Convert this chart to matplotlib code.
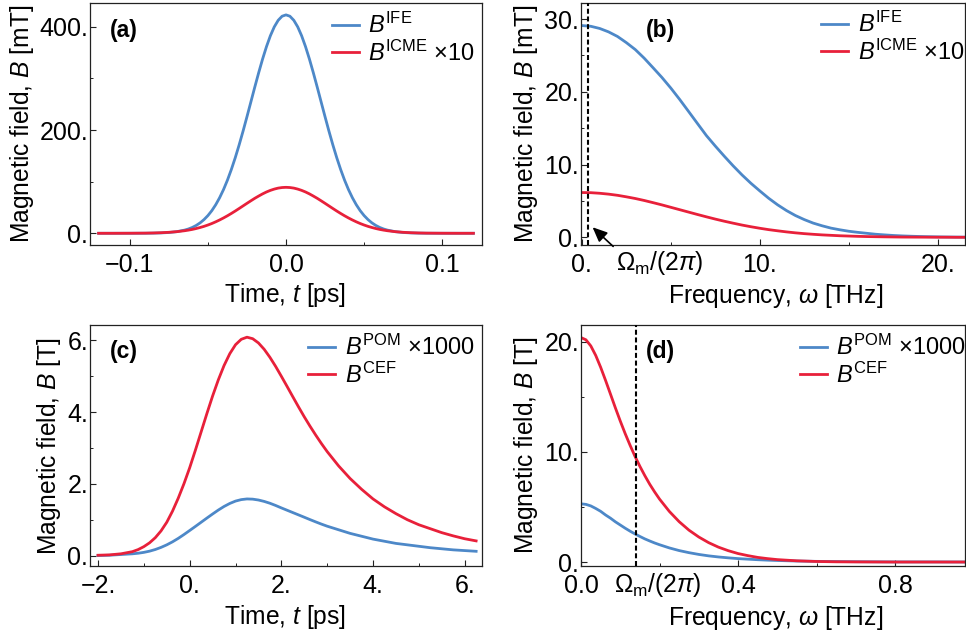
import numpy as np
import matplotlib
matplotlib.use('Agg')
import matplotlib.pyplot as plt

plt.rcParams['font.family'] = ['Liberation Sans', 'DejaVu Sans']
plt.rcParams['mathtext.fontset'] = 'custom'
plt.rcParams['mathtext.rm'] = 'Liberation Sans'
plt.rcParams['mathtext.it'] = 'Liberation Sans:italic'
plt.rcParams['mathtext.bf'] = 'Liberation Sans:bold'
plt.rcParams['font.size'] = 17.7

BLUE = '#4D88C8'
RED = '#E8203A'

# (a) time domain, IFE / ICME (x10), mT
t_a = [-0.12, -0.11, -0.10, -0.095, -0.09, -0.085, -0.08, -0.075, -0.07, -0.065,
       -0.0625, -0.06, -0.0575, -0.055, -0.0525, -0.05, -0.0475, -0.045, -0.0425,
       -0.04, -0.0375, -0.035, -0.0325, -0.03, -0.0275, -0.025, -0.0225, -0.02,
       -0.0175, -0.015, -0.0125, -0.01, -0.0075, -0.005, -0.0025, 0.0,
       0.0025, 0.005, 0.0075, 0.01, 0.0125, 0.015, 0.0175, 0.02, 0.0225, 0.025,
       0.0275, 0.03, 0.0325, 0.035, 0.0375, 0.04, 0.0425, 0.045, 0.0475, 0.05,
       0.0525, 0.055, 0.0575, 0.06, 0.0625, 0.065, 0.07, 0.075, 0.08, 0.085, 0.09,
       0.095, 0.10, 0.11, 0.12]
ife_a = [0.0, 0.0, 0.0, 0.05, 0.1, 0.3, 0.7, 1.5, 3.1, 6.1, 8.3, 11.3, 15.2, 20.2,
         26.5, 34.3, 43.8, 55.3, 68.9, 84.7, 102.9, 123.5, 146.3, 171.2, 197.8,
         225.7, 254.3, 283.0, 310.9, 337.4, 361.5, 382.6, 399.8, 412.5, 420.4, 423.0,
         420.4, 412.5, 399.8, 382.6, 361.5, 337.4, 310.9, 283.0, 254.3, 225.7, 197.8,
         171.2, 146.3, 123.5, 102.9, 84.7, 68.9, 55.3, 43.8, 34.3, 26.5, 20.2, 15.2,
         11.3, 8.3, 6.1, 3.1, 1.5, 0.7, 0.3, 0.1, 0.05, 0.0, 0.0, 0.0]
icme_a = [0.0, 0.0, 0.1, 0.2, 0.3, 0.6, 1.1, 1.9, 3.1, 4.9, 6.1, 7.5, 9.2, 11.2,
          13.4, 16.0, 18.9, 22.2, 25.8, 29.7, 33.9, 38.4, 43.1, 48.0, 53.0, 58.0,
          62.9, 67.7, 72.1, 76.3, 80.0, 83.1, 85.6, 87.5, 88.6, 89.0,
          88.6, 87.5, 85.6, 83.1, 80.0, 76.3, 72.1, 67.7, 62.9, 58.0, 53.0, 48.0,
          43.1, 38.4, 33.9, 29.7, 25.8, 22.2, 18.9, 16.0, 13.4, 11.2, 9.2, 7.5, 6.1,
          4.9, 3.1, 1.9, 1.1, 0.6, 0.3, 0.2, 0.1, 0.0, 0.0]

# (b) frequency domain, mT
f_b = [0.0, 0.5, 1.0, 1.5, 2.0, 2.5, 3.0, 3.5, 4.0, 4.5, 5.0, 5.5, 6.0, 6.5, 7.0,
       7.5, 8.0, 8.5, 9.0, 9.5, 10.0, 10.5, 11.0, 11.5, 12.0, 12.5, 13.0, 13.5,
       14.0, 14.5, 15.0, 15.5, 16.0, 16.5, 17.0, 17.5, 18.0, 18.5, 19.0, 19.5,
       20.0, 20.5, 21.0, 21.5]
ife_b = [29.1, 29.0, 28.7, 28.23, 27.6, 26.75, 25.8, 24.62, 23.3, 21.96, 20.5,
         18.93, 17.28, 15.62, 13.97, 12.53, 11.15, 9.82, 8.57, 7.42, 6.37, 5.36,
         4.46, 3.67, 2.99, 2.43, 1.95, 1.58, 1.26, 1.03, 0.83, 0.68, 0.55, 0.42,
         0.33, 0.25, 0.19, 0.145, 0.108, 0.08, 0.058, 0.04, 0.03, 0.02]
icme_b = [6.15, 6.13, 6.05, 5.93, 5.77, 5.56, 5.33, 5.06, 4.76, 4.45, 4.12, 3.79,
          3.46, 3.13, 2.81, 2.50, 2.21, 1.94, 1.68, 1.45, 1.24, 1.05, 0.89, 0.74,
          0.61, 0.50, 0.41, 0.33, 0.27, 0.21, 0.17, 0.13, 0.10, 0.08, 0.06, 0.045,
          0.03, 0.025, 0.02, 0.015, 0.01, 0.01, 0.0, 0.0]
omega_m_b = 0.36

# (c) time domain, POM (x1000) / CEF, T
t_c = [-2.0, -1.75, -1.5, -1.25, -1.125, -1.0, -0.875, -0.75, -0.625, -0.5, -0.375,
       -0.25, -0.125, 0.0, 0.125, 0.25, 0.375, 0.5, 0.625, 0.75, 0.875, 1.0, 1.125,
       1.25, 1.375, 1.5, 1.625, 1.75, 1.875, 2.0, 2.125, 2.25, 2.375, 2.5, 2.625,
       2.75, 2.875, 3.0, 3.25, 3.5, 3.75, 4.0, 4.25, 4.5, 4.75, 5.0, 5.25, 5.5,
       5.75, 6.0, 6.25]
pom_c = [0.0, 0.01, 0.03, 0.05, 0.066, 0.09, 0.124, 0.17, 0.229, 0.30, 0.384, 0.48,
         0.587, 0.70, 0.814, 0.93, 1.046, 1.16, 1.27, 1.37, 1.454, 1.52, 1.561, 1.58,
         1.574, 1.55, 1.511, 1.46, 1.398, 1.33, 1.265, 1.2, 1.135, 1.07, 1.004, 0.94,
         0.878, 0.82, 0.72, 0.62, 0.54, 0.46, 0.40, 0.34, 0.30, 0.26, 0.22, 0.19,
         0.16, 0.14, 0.12]
cef_c = [0.01, 0.02, 0.05, 0.11, 0.168, 0.25, 0.357, 0.5, 0.689, 0.93, 1.239, 1.6,
         2.004, 2.45, 2.941, 3.45, 3.959, 4.45, 4.901, 5.3, 5.63, 5.88, 6.031, 6.09,
         6.048, 5.93, 5.753, 5.53, 5.276, 5.0, 4.717, 4.43, 4.146, 3.87, 3.609, 3.36,
         3.123, 2.9, 2.5, 2.15, 1.85, 1.58, 1.36, 1.17, 1.0, 0.86, 0.75, 0.64, 0.55,
         0.47, 0.41]

# (d) frequency domain, T
f_d = [0.0, 0.0125, 0.025, 0.0375, 0.05, 0.0625, 0.075, 0.0875, 0.1, 0.1125, 0.125,
       0.1375, 0.15, 0.1625, 0.175, 0.1875, 0.2, 0.225, 0.25, 0.275, 0.3, 0.325,
       0.35, 0.375, 0.4, 0.425, 0.45, 0.475, 0.5, 0.55, 0.6, 0.65, 0.7, 0.8, 0.9, 1.0]
pom_d = [5.28, 5.23, 5.09, 4.86, 4.6, 4.27, 3.98, 3.65, 3.36, 3.07, 2.8, 2.55, 2.32,
         2.1, 1.91, 1.73, 1.57, 1.28, 1.04, 0.85, 0.69, 0.56, 0.46, 0.38, 0.31, 0.26,
         0.21, 0.17, 0.14, 0.09, 0.06, 0.045, 0.03, 0.01, 0.01, 0.0]
cef_d = [20.36, 20.16, 19.60, 18.74, 17.67, 16.48, 15.24, 13.99, 12.79, 11.65, 10.59,
         9.59, 8.68, 7.84, 7.06, 6.36, 5.71, 4.59, 3.66, 2.89, 2.27, 1.76, 1.35, 1.03,
         0.77, 0.58, 0.42, 0.31, 0.22, 0.11, 0.05, 0.02, 0.01, 0.0, 0.0, 0.0]
omega_m_d = 0.139

# ticks
xt_a, xl_a, xm_a = [-0.1, 0.0, 0.1], ['\u22120.1', '0.0', '0.1'], [-0.05, 0.05]
yt_a, yl_a, ym_a = [0, 200, 400], ['0.', '200.', '400.'], [100, 300]
xt_b, xl_b, xm_b = [0, 10, 20], ['0.', '10.', '20.'], [5, 15]
yt_b, yl_b, ym_b = [0, 10, 20, 30], ['0.', '10.', '20.', '30.'], [5, 15, 25]
xt_c, xl_c, xm_c = [-2, 0, 2, 4, 6], ['\u22122.', '0.', '2.', '4.', '6.'], [-1, 1, 3, 5]
yt_c, yl_c, ym_c = [0, 2, 4, 6], ['0.', '2.', '4.', '6.'], [1, 3, 5]
xt_d, xl_d, xm_d = [0.0, 0.4, 0.8], ['0.0', '0.4', '0.8'], [0.2, 0.6]
yt_d, yl_d, ym_d = [0, 10, 20], ['0.', '10.', '20.'], [5, 15]

W, H = 966, 637
fig = plt.figure(figsize=(W / 100, H / 100), dpi=100)


def add_axes(l, t, r, b):
    return fig.add_axes([l / W, 1 - b / H, (r - l) / W, (b - t) / H])


def style(ax, xlim, ylim, xt, xl, xm, yt, yl, ym):
    ax.set_xlim(xlim)
    ax.set_ylim(ylim)
    ax.set_xticks(xt, xl)
    ax.set_xticks(xm, minor=True)
    ax.set_yticks(yt, yl)
    ax.set_yticks(ym, minor=True)
    ax.tick_params(which='both', direction='in', top=False, right=False,
                   color='#222222', labelsize=18)
    ax.tick_params(which='major', length=4, width=0.8)
    ax.tick_params(which='minor', length=2.5, width=0.7)
    ax.tick_params(axis='x', pad=6)
    ax.tick_params(axis='y', pad=1.2)
    for s in ax.spines.values():
        s.set_linewidth(0.9)
        s.set_color('#222222')


def legend(ax, x, y, labels):
    ax.legend(labels, loc='upper left', bbox_to_anchor=(x, y), frameon=False,
              fontsize=17, handlelength=1.13, handletextpad=0.42, borderpad=0,
              borderaxespad=0, labelspacing=0.1)


ax_a = add_axes(90, 3, 482, 245)
ax_b = add_axes(581, 3, 965, 245)
ax_c = add_axes(90, 325, 482, 566)
ax_d = add_axes(581, 325, 965, 566)

lw = 2.0
ax_a.plot(t_a, ife_a, color=BLUE, lw=lw)
ax_a.plot(t_a, icme_a, color=RED, lw=lw)
style(ax_a, (-0.1255, 0.1255), (-22.7, 446), xt_a, xl_a, xm_a, yt_a, yl_a, ym_a)
legend(ax_a, 0.617, 0.96, [r'$B^{\mathrm{IFE}}$', r'$B^{\mathrm{ICME}}$ ×10'])

ax_b.plot(f_b, ife_b, color=BLUE, lw=lw)
ax_b.plot(f_b, icme_b, color=RED, lw=lw)
ax_b.axvline(omega_m_b, color='black', lw=1.5, ls=(0, (2.4, 1.3)), zorder=3)
style(ax_b, (-0.05, 21.53), (-1.06, 32.2), xt_b, xl_b, xm_b, yt_b, yl_b, ym_b)
legend(ax_b, 0.626, 0.963, [r'$B^{\mathrm{IFE}}$', r'$B^{\mathrm{ICME}}$ ×10'])
ax_b.annotate(r'$\Omega_{\mathrm{m}}/(2\pi)$', xy=(0.6, 1.38), xycoords='data',
              xytext=(0.205, -0.0744), textcoords='axes fraction',
              ha='center', va='center', annotation_clip=False,
              arrowprops=dict(arrowstyle='-|>,head_length=0.5,head_width=0.22',
                              color='black', lw=1.2, relpos=(0, 1),
                              shrinkA=0, shrinkB=0))

ax_c.plot(t_c, pom_c, color=BLUE, lw=lw)
ax_c.plot(t_c, cef_c, color=RED, lw=lw)
style(ax_c, (-2.175, 6.378), (-0.29, 6.43), xt_c, xl_c, xm_c, yt_c, yl_c, ym_c)
legend(ax_c, 0.557, 0.9586, [r'$B^{\mathrm{POM}}$ ×1000', r'$B^{\mathrm{CEF}}$'])

ax_d.plot(f_d, pom_d, color=BLUE, lw=lw)
ax_d.plot(f_d, cef_d, color=RED, lw=lw)
ax_d.axvline(omega_m_d, color='black', lw=1.5, ls=(0, (2.4, 1.3)), zorder=3)
style(ax_d, (0.0, 0.978), (-0.36, 21.5), xt_d, xl_d, xm_d, yt_d, yl_d, ym_d)
legend(ax_d, 0.570, 0.9586, [r'$B^{\mathrm{POM}}$ ×1000', r'$B^{\mathrm{CEF}}$'])
ax_d.text(0.201, -0.0776, r'$\Omega_{\mathrm{m}}/(2\pi)$', transform=ax_d.transAxes,
          ha='center', va='center')

# panel letters
for ax, x, y, s in [(ax_a, 0.051, 0.888, '(a)'), (ax_b, 0.170, 0.888, '(b)'),
                    (ax_c, 0.051, 0.890, '(c)'), (ax_d, 0.170, 0.890, '(d)')]:
    ax.text(x, y, s, transform=ax.transAxes, ha='left', va='center',
            fontweight='bold', fontsize=16.5)

# axis labels placed in figure pixels
for x, y, s in [(22.5, 124, r'Magnetic field, $B$ [mT]'),
                (526, 124, r'Magnetic field, $B$ [mT]'),
                (49, 446, r'Magnetic field, $B$ [T]'),
                (525.5, 445.5, r'Magnetic field, $B$ [T]')]:
    fig.text(x / W, 1 - y / H, s, rotation=90, ha='center', va='center')
for x, y, s in [(285.5, 295, r'Time, $t$ [ps]'),
                (776, 296, r'Frequency, $\omega$ [THz]'),
                (285.5, 617, r'Time, $t$ [ps]'),
                (776, 618, r'Frequency, $\omega$ [THz]')]:
    fig.text(x / W, 1 - y / H, s, ha='center', va='center')

fig.savefig('out.png', dpi=100)
